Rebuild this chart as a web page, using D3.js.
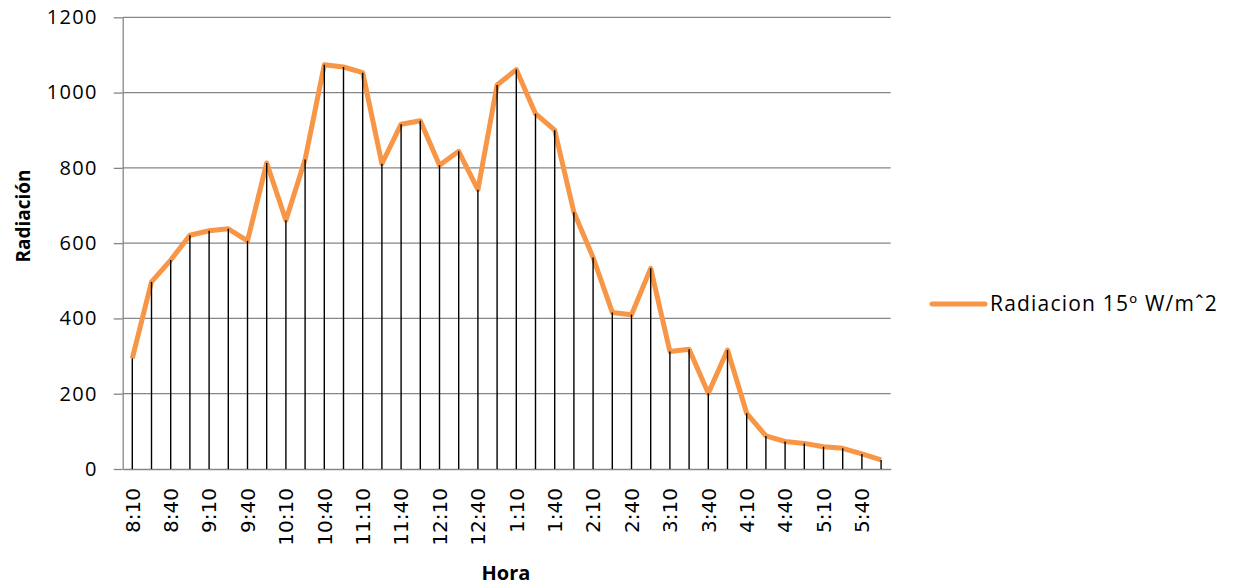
<!DOCTYPE html>
<html>
<head>
<meta charset="utf-8">
<script src="https://cdn.jsdelivr.net/npm/d3@7"></script>
<style>
  html, body { margin: 0; padding: 0; background: #fff; }
  svg { display: block; }
</style>
</head>
<body>
<svg id="chart" width="1245" height="588"></svg>
<script>
// Time of day, every 15 minutes
const categories = [
  "8:10","8:25","8:40","8:55","9:10","9:25","9:40","9:55",
  "10:10","10:25","10:40","10:55","11:10","11:25","11:40","11:55",
  "12:10","12:25","12:40","12:55","1:10","1:25","1:40","1:55",
  "2:10","2:25","2:40","2:55","3:10","3:25","3:40","3:55",
  "4:10","4:25","4:40","4:55","5:10","5:25","5:40","5:55"
];
// Radiation on a 15º tilted surface, W/m^2
const radiacion = [
  294, 497, 555, 621, 633, 638, 606, 813,
  661, 822, 1074, 1068, 1053, 811, 916, 925,
  807, 844, 742, 1020, 1061, 944, 900, 682,
  562, 416, 410, 533, 312, 318, 201, 316,
  148, 88, 73, 68, 59, 55, 40, 24
];
// Labelled categories on the x axis
const xTickLabels = [
  "8:10","8:40","9:10","9:40","10:10","10:40","11:10","11:40",
  "12:10","12:40","1:10","1:40","2:10","2:40","3:10","3:40",
  "4:10","4:40","5:10","5:40"
];
const yTicks = [0, 200, 400, 600, 800, 1000, 1200];
const seriesName = "Radiacion 15º W/mˆ2";

const svg = d3.select("#chart");
const plot = { left: 122.7, right: 890.7, top: 17.3, bottom: 469 };
const gridColor = "#868686";
const lineColor = "#F79646";

const x = d3.scaleBand().domain(categories).range([plot.left, plot.right]).padding(0);
const y = d3.scaleLinear().domain([0, 1200]).range([plot.bottom, plot.top]);
const cx = c => x(c) + x.bandwidth() / 2;

// Horizontal gridlines
svg.append("g")
  .selectAll("line")
  .data(yTicks.filter(v => v > 0))
  .join("line")
  .attr("x1", plot.left).attr("x2", plot.right)
  .attr("y1", d => y(d)).attr("y2", d => y(d))
  .attr("stroke", gridColor).attr("stroke-width", 1.3);

// Y axis
const yAxis = svg.append("g")
  .attr("transform", `translate(${plot.left},0)`)
  .call(d3.axisLeft(y).tickValues(yTicks).tickFormat(d3.format("d"))
    .tickSize(9).tickPadding(16).tickSizeOuter(0));
yAxis.select(".domain").attr("stroke", gridColor).attr("stroke-width", 1.3);
yAxis.selectAll(".tick line").attr("stroke", gridColor).attr("stroke-width", 1.3);
yAxis.selectAll(".tick text")
  .attr("fill", "#000")
  .style("font-family", "'Open Sans', sans-serif")
  .style("font-size", "20px")
  .style("letter-spacing", "1.3px");

// X axis
const xAxis = svg.append("g")
  .attr("transform", `translate(0,${plot.bottom})`)
  .call(d3.axisBottom(x).tickValues(xTickLabels).tickSize(0).tickSizeOuter(0));
xAxis.select(".domain").attr("stroke", gridColor).attr("stroke-width", 1.3);
xAxis.selectAll(".tick text")
  .attr("fill", "#000")
  .attr("transform", "rotate(-90)")
  .attr("x", -19).attr("y", 0).attr("dy", "0.36em")
  .attr("text-anchor", "end")
  .style("font-family", "'DejaVu Sans', sans-serif")
  .style("font-size", "20px");

// Series line
const line = d3.line().x((d, i) => cx(categories[i])).y(d => y(d));
svg.append("path")
  .datum(radiacion)
  .attr("d", line)
  .attr("fill", "none")
  .attr("stroke", lineColor)
  .attr("stroke-width", 5)
  .attr("stroke-linejoin", "round");

// Drop lines from each point to the axis
svg.append("g")
  .selectAll("line")
  .data(radiacion)
  .join("line")
  .attr("x1", (d, i) => cx(categories[i])).attr("x2", (d, i) => cx(categories[i]))
  .attr("y1", d => y(d)).attr("y2", y(0))
  .attr("stroke", "#000").attr("stroke-width", 1.4);

// Axis titles
svg.append("text")
  .attr("transform", "translate(30,216) rotate(-90)")
  .attr("text-anchor", "middle")
  .style("font-family", "'Open Sans', sans-serif")
  .style("font-weight", "bold")
  .style("font-size", "19px")
  .text("Radiación");

svg.append("text")
  .attr("x", 506).attr("y", 580)
  .attr("text-anchor", "middle")
  .style("font-family", "'Open Sans', sans-serif")
  .style("font-weight", "bold")
  .style("font-size", "20px")
  .text("Hora");

// Legend
const legend = svg.append("g");
legend.append("line")
  .attr("x1", 932).attr("x2", 985).attr("y1", 304).attr("y2", 304)
  .attr("stroke", lineColor).attr("stroke-width", 5).attr("stroke-linecap", "round");
legend.append("text")
  .attr("x", 990).attr("y", 311)
  .style("font-family", "'Open Sans', sans-serif")
  .style("font-size", "21px")
  .style("letter-spacing", "1.2px")
  .text(seriesName);
</script>
</body>
</html>
